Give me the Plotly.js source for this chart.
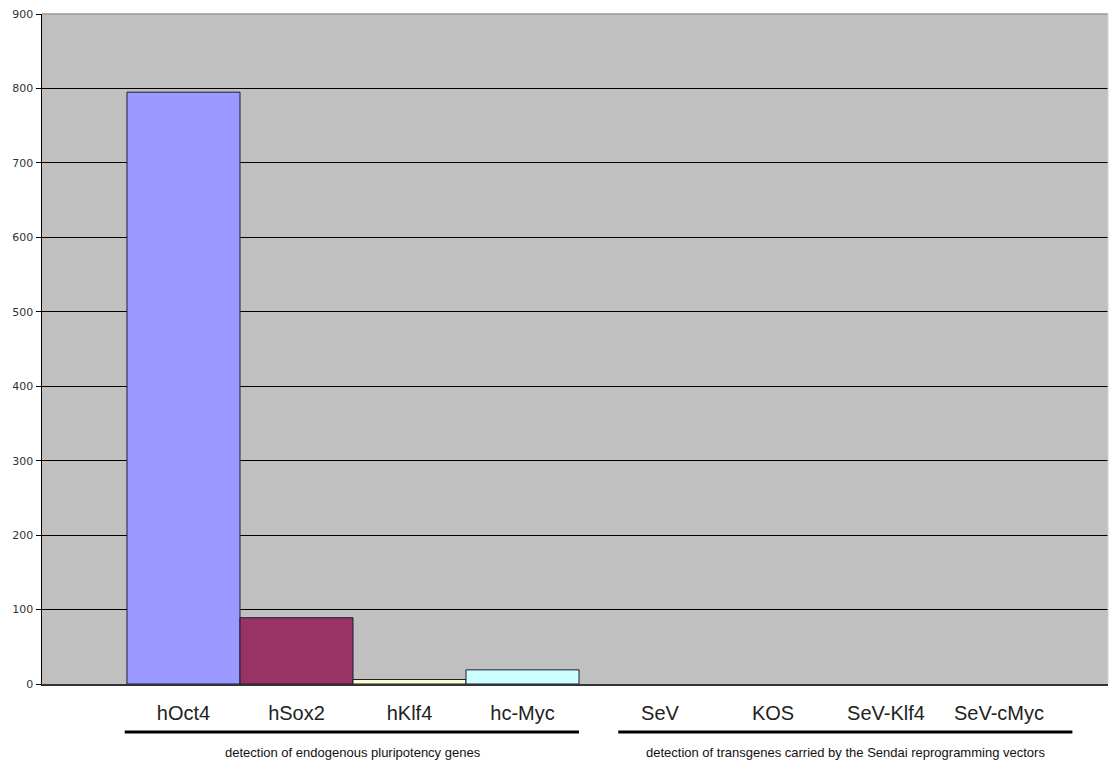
<!DOCTYPE html>
<html>
<head>
<meta charset="utf-8">
<script src="https://cdn.plot.ly/plotly-3.0.1.min.js"></script>
<style>html,body{margin:0;padding:0;background:#fff;}#chart{width:1110px;height:765px;}</style>
</head>
<body>
<div id="chart"></div>
<script>
// Data
const endogenousGenes = ["hOct4", "hSox2", "hKlf4", "hc-Myc"];
const endogenousValues = [795, 89, 6, 19];
const transgenes = ["SeV", "KOS", "SeV-Klf4", "SeV-cMyc"];
const transgeneValues = [0, 0, 0, 0];
const groupLabels = ["detection of endogenous pluripotency genes",
                     "detection of transgenes carried by the Sendai reprogramming vectors"];
const yTicks = [0, 100, 200, 300, 400, 500, 600, 700, 800, 900];

// Styles
const barColorsLeft = ["#9999FF", "#993366", "#FFFFCC", "#CCFFFF"];
const barColorsRight = ["#660066", "#FF8080", "#0066CC", "#CCCCFF"];
const split = 0.515;

const traces = [
  {type: "bar", x: endogenousGenes, y: endogenousValues, xaxis: "x", yaxis: "y",
   width: 1, marker: {color: barColorsLeft, line: {color: "#1a1a33", width: 1}},
   hoverinfo: "x+y"},
  {type: "bar", x: transgenes, y: transgeneValues, xaxis: "x2", yaxis: "y",
   width: 1, marker: {color: barColorsRight, line: {color: "#1a1a33", width: 0}},
   hoverinfo: "x+y"}
];

const catFont = {family: "Liberation Sans, Arial, sans-serif", size: 20, color: "#222"};
const groupFont = {family: "Liberation Sans, Arial, sans-serif", size: 13, color: "#111"};
const layout = {
  width: 1110, height: 765,
  margin: {l: 42, r: 2, t: 14, b: 81},
  paper_bgcolor: "#ffffff",
  plot_bgcolor: "#C0C0C0",
  showlegend: false,
  bargap: 0,
  xaxis: {domain: [0, split], type: "category", range: [-1.252, 3.606],
          showline: true, linecolor: "#333", linewidth: 1.5, ticks: "",
          showgrid: false, zeroline: false, tickfont: catFont, ticklabelstandoff: 10, fixedrange: true},
  xaxis2: {domain: [split, 1], anchor: "y", type: "category", range: [-0.611, 3.965],
          showline: true, linecolor: "#333", linewidth: 1.5, ticks: "",
          showgrid: false, zeroline: false, tickfont: catFont, ticklabelstandoff: 10, fixedrange: true},
  yaxis: {range: [0, 900], tickvals: yTicks, ticktext: yTicks.map(String),
          showline: true, linecolor: "#000", linewidth: 1.5,
          ticks: "outside", ticklen: 5, tickcolor: "#000",
          showgrid: true, gridcolor: "#000", gridwidth: 1, zeroline: false,
          tickfont: {family: "DejaVu Sans, sans-serif", size: 11, color: "#333"}, fixedrange: true},
  shapes: [
    {type: "line", xref: "paper", yref: "paper", x0: 0, x1: 1, y0: 1, y1: 1,
     line: {color: "#9a9a9a", width: 1.5}},
    {type: "line", xref: "paper", yref: "paper", x0: 1, x1: 1, y0: 0, y1: 1,
     line: {color: "#d0d0d0", width: 1}},
    {type: "line", xref: "x", yref: "paper", x0: -0.52, x1: 3.5, y0: -0.0716, y1: -0.0716,
     line: {color: "#000", width: 3}},
    {type: "line", xref: "x2", yref: "paper", x0: -0.37, x1: 3.65, y0: -0.0716, y1: -0.0716,
     line: {color: "#000", width: 3}}
  ],
  annotations: [
    {xref: "x", yref: "paper", x: 1.5, y: -0.102, yanchor: "middle", text: groupLabels[0], showarrow: false,
     font: groupFont},
    {xref: "x2", yref: "paper", x: 1.64, y: -0.102, yanchor: "middle", text: groupLabels[1], showarrow: false,
     font: groupFont}
  ]
};

Plotly.newPlot("chart", traces, layout, {displayModeBar: false, staticPlot: true});
</script>
</body>
</html>
